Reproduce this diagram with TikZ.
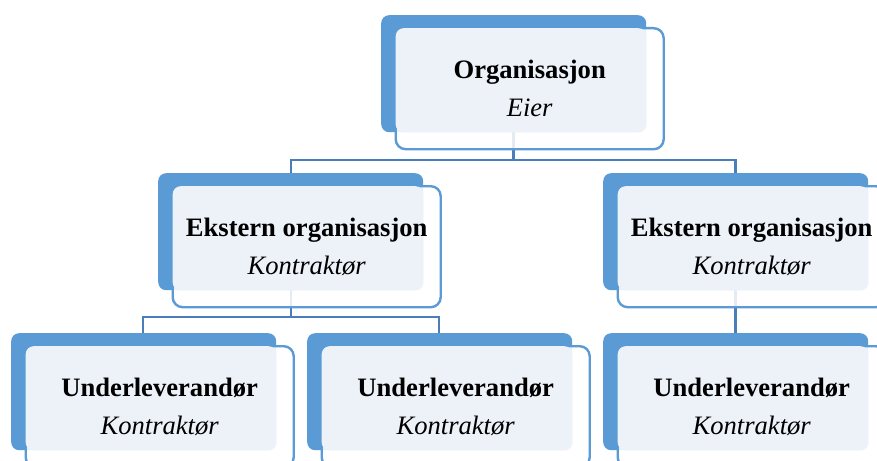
\documentclass[tikz,border=0pt]{standalone}
\usepackage{fontspec}
\setmainfont{Liberation Serif}
\usetikzlibrary{calc}
\definecolor{bblue}{HTML}{5B9BD5}
\definecolor{panelc}{HTML}{EDF2F9}
\definecolor{connc}{HTML}{4A7EBB}
\tikzset{
  bluebox/.style={fill=bblue, rounded corners=8pt, anchor=north west, minimum width=265pt, minimum height=117pt, inner sep=0pt},
  framebox/.style={draw=bblue, line width=2.4pt, fill=white, fill opacity=0.85, rounded corners=10pt, anchor=north west, minimum width=268pt, minimum height=121pt, inner sep=0pt},
  panel/.style={fill=panelc, rounded corners=8pt},
  txt/.style={align=center, font=\fontsize{26.6pt}{38pt}\selectfont, inner sep=0pt},
  conn/.style={draw=connc, line width=2.4pt}
}
\newcommand\myunit[6]{%
  \node[bluebox] (#1) at (#2pt,-#3pt) {};
  \node[framebox] (#1f) at ($(#1.north west)+(13.5pt,-12pt)$) {};
  \fill[panel] ($(#1f.north west)+(1.2pt,-1.2pt)$) rectangle (#1.south east);
  \node[txt] (#1t) at ($(#1f.center)+(0,#6)$) {\textbf{#4}\\\textit{#5}};
}
\begin{document}
\begin{tikzpicture}[x=1pt,y=1pt]
\useasboundingbox (0,0) rectangle (877,-460);
\clip (0,0) rectangle (877,-460);
\fill[white] (0,0) rectangle (877,-460);
\coordinate (tc) at (513.5,-132);
\coordinate (m1n) at (291,-173);
\coordinate (m2n) at (735.5,-173);
\coordinate (m1s) at (291,-290);
\coordinate (m2s) at (735.5,-290);
\coordinate (b1n) at (143,-333);
\coordinate (b2n) at (439,-333);
\coordinate (b3n) at (735.5,-333);
\draw[conn] (tc) -- (513.5,-160) -| (m1n);
\draw[conn] (tc) -- (513.5,-160) -| (m2n);
\draw[conn] (m1s) -- (291,-317) -| (b1n);
\draw[conn] (m1s) -- (291,-317) -| (b2n);
\draw[conn] (m2s) -- (b3n);
\myunit{t}{381}{15}{Organisasjon}{Eier}{0pt}
\myunit{ma}{158}{173}{Ekstern organisasjon}{Kontraktør}{0pt}
\myunit{mb}{603}{173}{Ekstern organisasjon}{Kontraktør}{0pt}
\myunit{ba}{11}{333}{Underleverandør}{Kontraktør}{0pt}
\myunit{bb}{307}{333}{Underleverandør}{Kontraktør}{0pt}
\myunit{bc}{603}{333}{Underleverandør}{Kontraktør}{0pt}
\end{tikzpicture}
\end{document}
